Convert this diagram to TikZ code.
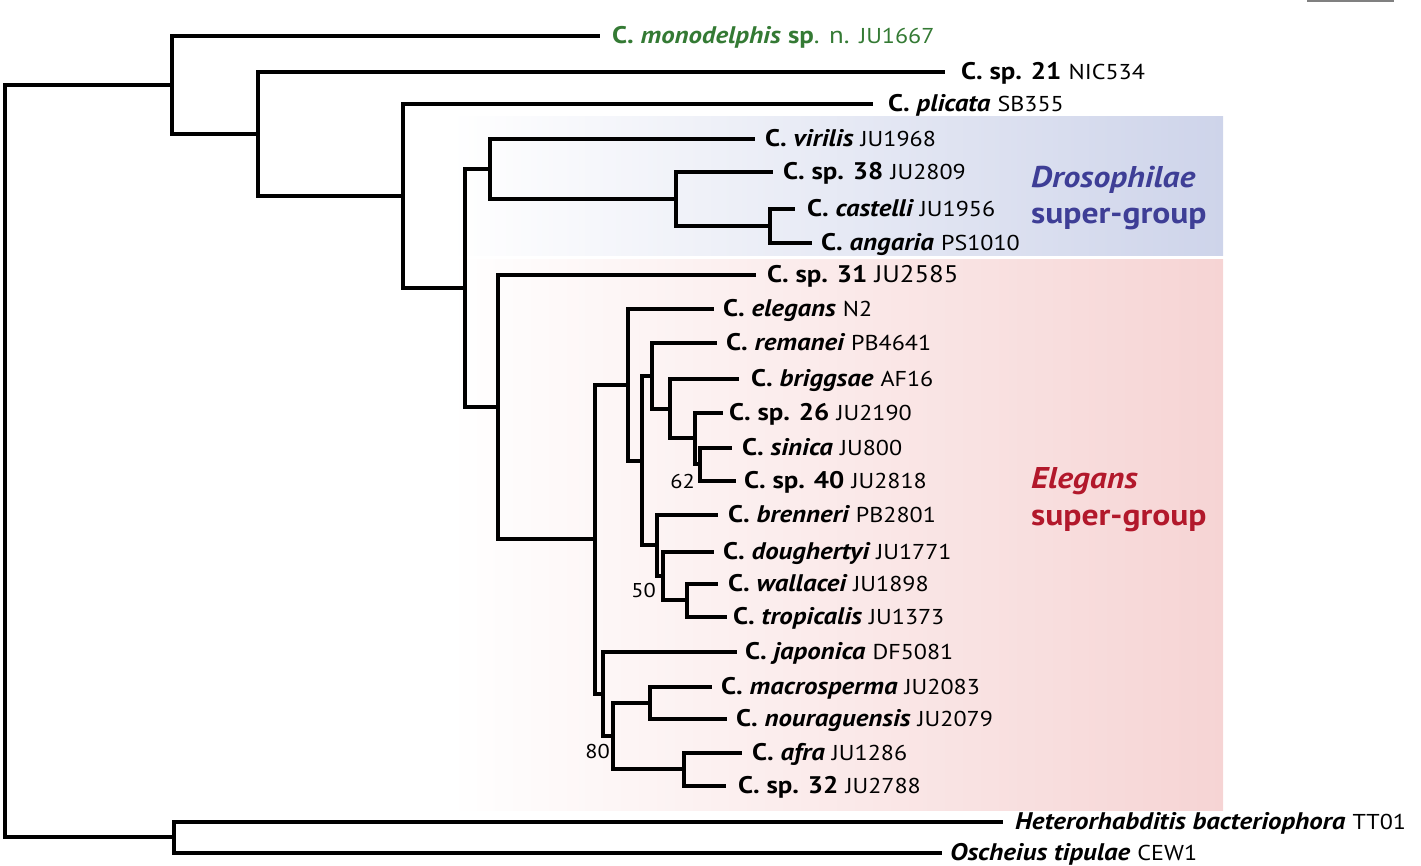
\documentclass[tikz,border=0pt]{standalone}
\usepackage{fontspec}
\setmainfont{PT Sans}[FakeStretch=1.12]
\definecolor{grn}{RGB}{52,122,52}
\definecolor{dblue}{RGB}{62,62,150}
\definecolor{dred}{RGB}{178,24,43}
\definecolor{boxblue}{RGB}{206,212,234}
\definecolor{boxpink}{RGB}{246,212,212}
\newcommand{\nm}[2]{{\bfseries #1 \itshape #2}}
\newcommand{\st}[1]{{\fontsize{21.5}{23}\selectfont #1}}
\begin{document}
\begin{tikzpicture}[x=1pt,y=-1pt,
  br/.style={line width=3.6pt, line join=miter},
  lf/.style={anchor=base west, yshift=-7pt, inner sep=0pt, font=\fontsize{24}{26}\selectfont},
  grp/.style={anchor=base west, inner sep=0pt, font=\fontsize{30}{32}\selectfont\bfseries},
  bs/.style={anchor=base east, inner sep=0pt, font=\fontsize{20}{22}\selectfont}]
\useasboundingbox (0,0) rectangle (1421,865);
% background group boxes
\shade[left color=white, right color=boxblue, shading angle=90] (450,116) rectangle (1223,255);
\shade[left color=white, right color=boxpink, shading angle=90] (450,259) rectangle (1223,810);
% scale bar
\draw[gray, line width=1.5pt] (1307,1) -- (1394,1);
% internal nodes
\coordinate (root) at (5,461);
\coordinate (A) at (172,85);
\coordinate (B) at (258,134);
\coordinate (C) at (403,196);
\coordinate (D) at (465,288);
\coordinate (Dr) at (490,169);
\coordinate (F) at (676,199);
\coordinate (G) at (770,226);
\coordinate (E) at (498,407);
\coordinate (H) at (595,539);
\coordinate (I) at (628,385);
\coordinate (K) at (642,461);
\coordinate (L) at (652,376);
\coordinate (N) at (670,409);
\coordinate (O) at (695,438);
\coordinate (P) at (700,464);
\coordinate (M) at (657,545);
\coordinate (Q) at (663,576);
\coordinate (R) at (687,600);
\coordinate (J) at (603,694);
\coordinate (S) at (613,736);
\coordinate (T) at (650,703);
\coordinate (U) at (684,769);
\coordinate (OUT) at (174,837);
% leaf ends
\coordinate (e1) at (600,36);
\coordinate (e2) at (945,72);
\coordinate (e3) at (873,104);
\coordinate (e4) at (755,139);
\coordinate (e5) at (773,172);
\coordinate (e6) at (795,209);
\coordinate (e7) at (812,243);
\coordinate (e8) at (756,275);
\coordinate (e9) at (714,309);
\coordinate (e10) at (717,343);
\coordinate (e11) at (739,379);
\coordinate (e12) at (723,413);
\coordinate (e13) at (732,448);
\coordinate (e14) at (736,481);
\coordinate (e15) at (718,515);
\coordinate (e16) at (714,552);
\coordinate (e17) at (718,584);
\coordinate (e18) at (727,617);
\coordinate (e19) at (737,652);
\coordinate (e20) at (712,687);
\coordinate (e21) at (727,719);
\coordinate (e22) at (742,753);
\coordinate (e23) at (726,786);
\coordinate (e24) at (1003,822);
\coordinate (e25) at (942,853);
% labels
\node[lf, text=grn] (t1) at (612,36) {\nm{C.}{monodelphis} \textbf{sp}. n. \st{JU1667}};
\node[lf] (t2) at (961,72) {\nm{C.}{}\textbf{sp. 21} \st{NIC534}};
\node[lf] (t3) at (888,104) {\nm{C.}{plicata} \st{SB355}};
\node[lf] (t4) at (765,139) {\nm{C.}{virilis} \st{JU1968}};
\node[lf] (t5) at (783,172) {\nm{C.}{}\textbf{sp. 38} \st{JU2809}};
\node[lf] (t6) at (807,209) {\nm{C.}{castelli} \st{JU1956}};
\node[lf] (t7) at (821,243) {\nm{C.}{angaria} \st{PS1010}};
\node[lf] (t8) at (767,275) {\nm{C.}{}\textbf{sp. 31} JU2585};
\node[lf] (t9) at (723,309) {\nm{C.}{elegans} \st{N2}};
\node[lf] (t10) at (726,343) {\nm{C.}{remanei} \st{PB4641}};
\node[lf] (t11) at (751,379) {\nm{C.}{briggsae} \st{AF16}};
\node[lf] (t12) at (729,413) {\nm{C.}{}\textbf{sp. 26} \st{JU2190}};
\node[lf] (t13) at (742,448) {\nm{C.}{sinica} \st{JU800}};
\node[lf] (t14) at (744,481) {\nm{C.}{}\textbf{sp. 40} \st{JU2818}};
\node[lf] (t15) at (728,515) {\nm{C.}{brenneri} \st{PB2801}};
\node[lf] (t16) at (723,552) {\nm{C.}{doughertyi} \st{JU1771}};
\node[lf] (t17) at (728,584) {\nm{C.}{wallacei} \st{JU1898}};
\node[lf] (t18) at (733,617) {\nm{C.}{tropicalis} \st{JU1373}};
\node[lf] (t19) at (745,652) {\nm{C.}{japonica} \st{DF5081}};
\node[lf] (t20) at (721,687) {\nm{C.}{macrosperma} \st{JU2083}};
\node[lf] (t21) at (736,719) {\nm{C.}{nouraguensis} \st{JU2079}};
\node[lf] (t22) at (752,753) {\nm{C.}{afra} \st{JU1286}};
\node[lf] (t23) at (738,786) {\nm{C.}{}\textbf{sp. 32} \st{JU2788}};
\node[lf] (t24) at (1015,822) {{\bfseries\itshape Heterorhabditis bacteriophora} \st{TT01}};
\node[lf] (t25) at (950,853) {{\bfseries\itshape Oscheius tipulae} \st{CEW1}};
% bootstrap values
\node[bs] (b62) at (695,488) {62};
\node[bs] (b50) at (656,597) {50};
\node[bs] (b80) at (610,758) {80};
% group labels
\node[grp, text=dblue] (g1) at (1031,187) {\itshape Drosophilae};
\node[grp, text=dblue] (g2) at (1031,223) {super-group};
\node[grp, text=dred] (g3) at (1031,488) {\itshape Elegans};
\node[grp, text=dred] (g4) at (1031,525) {super-group};
% branches
\draw[br] (root) |- (A);
\draw[br] (root) |- (OUT);
\draw[br] (A) |- (e1);
\draw[br] (A) |- (B);
\draw[br] (B) |- (e2);
\draw[br] (B) |- (C);
\draw[br] (C) |- (e3);
\draw[br] (C) |- (D);
\draw[br] (D) |- (Dr);
\draw[br] (D) |- (E);
\draw[br] (Dr) |- (e4);
\draw[br] (Dr) |- (F);
\draw[br] (F) |- (e5);
\draw[br] (F) |- (G);
\draw[br] (G) |- (e6);
\draw[br] (G) |- (e7);
\draw[br] (E) |- (e8);
\draw[br] (E) |- (H);
\draw[br] (H) |- (I);
\draw[br] (H) |- (J);
\draw[br] (I) |- (e9);
\draw[br] (I) |- (K);
\draw[br] (K) |- (L);
\draw[br] (K) |- (M);
\draw[br] (L) |- (e10);
\draw[br] (L) |- (N);
\draw[br] (N) |- (e11);
\draw[br] (N) |- (O);
\draw[br] (O) |- (e12);
\draw[br] (O) |- (P);
\draw[br] (P) |- (e13);
\draw[br] (P) |- (e14);
\draw[br] (M) |- (e15);
\draw[br] (M) |- (Q);
\draw[br] (Q) |- (e16);
\draw[br] (Q) |- (R);
\draw[br] (R) |- (e17);
\draw[br] (R) |- (e18);
\draw[br] (J) |- (e19);
\draw[br] (J) |- (S);
\draw[br] (S) |- (T);
\draw[br] (S) |- (U);
\draw[br] (T) |- (e20);
\draw[br] (T) |- (e21);
\draw[br] (U) |- (e22);
\draw[br] (U) |- (e23);
\draw[br] (OUT) |- (e24);
\draw[br] (OUT) |- (e25);
\end{tikzpicture}
\end{document}
